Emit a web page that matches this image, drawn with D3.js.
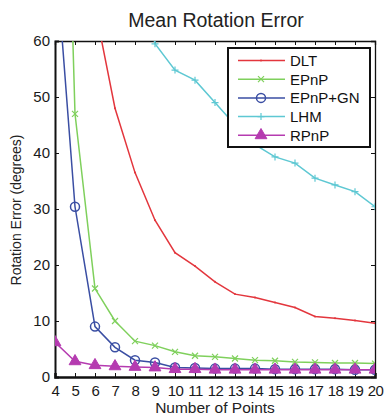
<!DOCTYPE html>
<html lang="en">
<head>
  <meta charset="UTF-8">
  <script src="https://cdn.jsdelivr.net/npm/d3@7"></script>
  <title>Mean Rotation Error</title>
  <style>
    body { margin: 0; background: #fff; }
    svg { font-family: "Liberation Sans", Arial, sans-serif; }
    .tick text { font-size: 15px; fill: #1a1a1a; }
  </style>
</head>
<body>
<div id="chart"></div>
<script>
  // number of points on the x axis
  var points = [4, 5, 6, 7, 8, 9, 10, 11, 12, 13, 14, 15, 16, 17, 18, 19, 20];

  var dlt     = [120, 90, 66, 48, 36.5, 28, 22.2, 19.8, 17, 14.8, 14.2, 13.3, 12.4, 10.8, 10.5, 10.1, 9.6];
  var epnp    = [170, 47, 15.8, 10, 6.4, 5.6, 4.5, 3.8, 3.6, 3.3, 3.0, 2.9, 2.7, 2.6, 2.5, 2.5, 2.4];
  var epnpGn  = [77, 30.4, 9, 5.3, 3.0, 2.6, 1.7, 1.6, 1.5, 1.5, 1.5, 1.4, 1.4, 1.4, 1.4, 1.3, 1.3];
  var lhm     = [140, 120, 105, 92, 76, 59.5, 54.8, 53, 49, 45, 41.5, 39.3, 38.2, 35.5, 34.3, 33.1, 30.4];
  var rpnp    = [6.2, 2.8, 2.1, 1.9, 1.8, 1.7, 1.4, 1.4, 1.3, 1.3, 1.3, 1.3, 1.3, 1.3, 1.3, 1.3, 1.3];

  var seriesNames = ["DLT", "EPnP", "EPnP+GN", "LHM", "RPnP"];
  var seriesColors = ["#e3363d", "#7fd05c", "#3a4ea3", "#5ec8d3", "#b53bb0"];
  var seriesMarkers = ["dot", "x", "circle", "plus", "triangle"];
  var seriesValues = [dlt, epnp, epnpGn, lhm, rpnp];

  var yTicks = [0, 10, 20, 30, 40, 50, 60];

  var margin = {top: 41, right: 9, bottom: 38, left: 55};
  var width = 384 - margin.left - margin.right;
  var height = 415 - margin.top - margin.bottom;

  var svg = d3.select("#chart").append("svg")
    .attr("width", 384)
    .attr("height", 415);

  var g = svg.append("g")
    .attr("transform", "translate(" + margin.left + "," + margin.top + ")");

  var x = d3.scaleLinear().domain([4, 20]).range([0, width]);
  var y = d3.scaleLinear().domain([0, 60]).range([height, 0]);

  g.append("clipPath").attr("id", "plotclip")
    .append("rect").attr("width", width).attr("height", height);

  // axes: bottom + left with labels, top + right just ticks
  var xAxis = g.append("g")
    .attr("transform", "translate(0," + height + ")")
    .call(d3.axisBottom(x).tickValues(points).tickSize(-4).tickPadding(8).tickFormat(d3.format("d")));
  var yAxis = g.append("g")
    .call(d3.axisLeft(y).tickValues(yTicks).tickSize(-4).tickPadding(5));
  var xTop = g.append("g")
    .call(d3.axisTop(x).tickValues(points).tickSize(-4).tickFormat(""));
  var yRight = g.append("g")
    .attr("transform", "translate(" + width + ",0)")
    .call(d3.axisRight(y).tickValues(yTicks).tickSize(-4).tickFormat(""));

  [xAxis, yAxis, xTop, yRight].forEach(function(a) {
    a.select(".domain").attr("stroke", "#111").attr("stroke-width", 1.3);
    a.selectAll(".tick line").attr("stroke", "#111");
  });
  xAxis.select(".domain").attr("stroke-width", 2.5);
  yAxis.select(".domain").attr("stroke-width", 2);
  xAxis.selectAll("text").attr("letter-spacing", "-0.5px");

  var line = d3.line()
    .x(function(d, i) { return x(points[i]); })
    .y(function(d) { return y(d); });

  var plot = g.append("g").attr("clip-path", "url(#plotclip)");

  function drawMarker(sel, type, color) {
    if (type == "dot") {
      sel.append("circle").attr("r", 1).attr("fill", color);
    } else if (type == "x") {
      sel.append("path").attr("d", "M-3,-3L3,3M-3,3L3,-3")
        .attr("stroke", color).attr("stroke-width", 1.2);
    } else if (type == "plus") {
      sel.append("path").attr("d", "M-3.5,0L3.5,0M0,-3.5L0,3.5")
        .attr("stroke", color).attr("stroke-width", 1.2);
    } else if (type == "circle") {
      sel.append("circle").attr("r", 4.5).attr("fill", "none")
        .attr("stroke", color).attr("stroke-width", 1.5);
    } else if (type == "triangle") {
      sel.append("path").attr("d", d3.symbol(d3.symbolTriangle, 60)())
        .attr("fill", color).attr("stroke", color);
    }
  }

  seriesValues.forEach(function(vals, s) {
    plot.append("path")
      .datum(vals)
      .attr("fill", "none")
      .attr("stroke", seriesColors[s])
      .attr("stroke-width", 1.5)
      .attr("d", line);

    vals.forEach(function(v, i) {
      if (v > 62) return;
      var m = plot.append("g")
        .attr("transform", "translate(" + x(points[i]) + "," + y(v) + ")");
      drawMarker(m, seriesMarkers[s], seriesColors[s]);
    });
  });

  // legend
  var lg = svg.append("g").attr("transform", "translate(228,48)");
  lg.append("rect")
    .attr("width", 142).attr("height", 99)
    .attr("fill", "#fff").attr("stroke", "#111").attr("stroke-width", 2);

  seriesNames.forEach(function(name, i) {
    var row = lg.append("g").attr("transform", "translate(0," + (12.5 + i * 18.7) + ")");
    row.append("line")
      .attr("x1", 10).attr("x2", 57)
      .attr("stroke", seriesColors[i]).attr("stroke-width", 1.5);
    var m = row.append("g").attr("transform", "translate(33,0)");
    drawMarker(m, seriesMarkers[i], seriesColors[i]);
    row.append("text")
      .attr("x", 62).attr("y", 5.5)
      .style("font-size", "15px")
      .attr("fill", "#111")
      .text(name);
  });

  // title and axis labels
  svg.append("text")
    .attr("x", 216).attr("y", 27)
    .style("text-anchor", "middle")
    .style("font-size", "19.5px")
    .attr("fill", "#222")
    .text("Mean Rotation Error");

  svg.append("text")
    .attr("x", 215).attr("y", 413)
    .style("text-anchor", "middle")
    .style("font-size", "15.5px")
    .attr("fill", "#222")
    .text("Number of Points");

  svg.append("text")
    .attr("transform", "translate(21," + 210 + ")rotate(-90)")
    .style("text-anchor", "middle")
    .style("font-size", "14px")
    .attr("fill", "#222")
    .text("Rotation Error (degrees)");
</script>
</body>
</html>
